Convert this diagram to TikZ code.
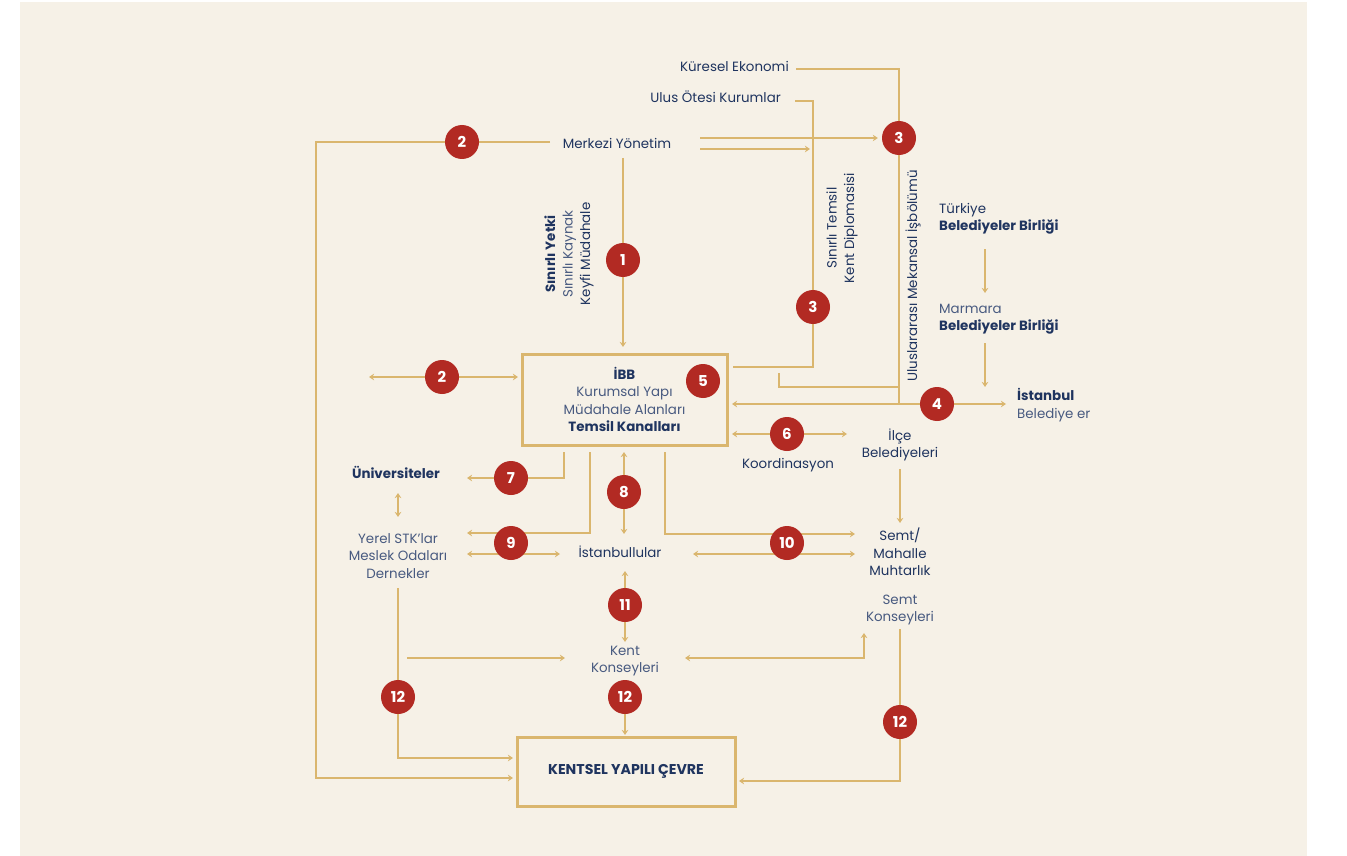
\documentclass[tikz,border=0pt]{standalone}
\usepackage{fontspec}
\setmainfont{Poppins}
\usetikzlibrary{arrows.meta}
\definecolor{cream}{RGB}{246,241,231}
\definecolor{gold}{RGB}{218,182,110}
\definecolor{navy}{RGB}{31,52,95}
\definecolor{lnavy}{RGB}{72,90,128}
\definecolor{circred}{RGB}{178,42,35}
\pgfdeclarelayer{back}
\pgfdeclarelayer{bg}
\pgfsetlayers{back,bg,main}
\tikzset{
  ln/.style={draw=gold, line width=2.8pt},
  ar/.style={-{Stealth[length=5pt,width=6.5pt]}},
  lr/.style={{Stealth[length=5pt,width=6.5pt]}-{Stealth[length=5pt,width=6.5pt]}},
  num/.style={circle, fill=circred, minimum size=34pt, inner sep=0pt, text=white, font=\fontsize{15}{15}\selectfont\bfseries},
  lbl/.style={align=center, inner sep=0pt, text=navy},
  lite/.style={text=lnavy},
  boxnode/.style={draw=gold, line width=3pt, inner sep=0pt, align=center, text=navy}
}
\begin{document}
\begin{tikzpicture}[x=1pt,y=-1pt,font=\fontsize{13.4}{17.4}\selectfont]
\useasboundingbox (0,0) rectangle (1347,856);
\begin{pgfonlayer}{back}
\fill[white] (0,0) rectangle (1347,856);
\fill[cream] (20,2) rectangle (1307,856);
\end{pgfonlayer}

% ---------- text nodes ----------
\node[lbl, anchor=east] (kures) at (789,66) {Küresel Ekonomi};
\node[lbl, anchor=east] (ulus) at (781,97) {Ulus Ötesi Kurumlar};
\node[lbl] (merk) at (617,143) {Merkezi Yönetim};
\node[lbl, rotate=90] (yetki) at (569,254) {\textbf{Sınırlı Yetki}\\{\color{lnavy}Sınırlı Kaynak}\\Keyfi Müdahale};
\node[lbl, rotate=90] (temsil) at (842,228) {Sınırlı Temsil\\Kent Diplomasisi};
\node[lbl, rotate=90] (ulusl) at (913,276) {Uluslararası Mekansal İşbölümü};
\node[lbl, anchor=west, align=left] (tbb) at (939,219) {Türkiye\\\textbf{Belediyeler Birliği}};
\node[lbl, anchor=west, align=left] (mbb) at (939,319) {{\color{lnavy}Marmara}\\\textbf{Belediyeler Birliği}};
\node[lbl, anchor=west, align=left] (istb) at (1017,405) {\textbf{İstanbul}\\{\color{lnavy}Belediye er}};
\node[boxnode, minimum width=205pt, minimum height=91pt] (ibb) at (624.5,399.5)
  {\textbf{İBB}\\{\color{lnavy}Kurumsal Yapı}\\{\color{lnavy}Müdahale Alanları}\\\textbf{Temsil Kanalları}};
\node[lbl] (ilce) at (900,445) {İlçe\\Belediyeleri};
\node[lbl] (koord) at (788,465) {Koordinasyon};
\node[lbl] (univ) at (396,472) {\textbf{Üniversiteler}};
\node[lbl, lite] (stk) at (398,556) {Yerel STK’lar\\Meslek Odaları\\Dernekler};
\node[lbl] (istlu) at (620,552) {İstanbullular};
\node[lbl] (semt) at (900,552) {Semt/\\Mahalle\\Muhtarlık};
\node[lbl, lite] (semtk) at (900,610) {Semt\\Konseyleri};
\node[lbl, lite] (kent) at (625,661) {Kent\\Konseyleri};
\node[boxnode, minimum width=218pt, minimum height=69pt, font=\fontsize{14.2}{16}\selectfont\bfseries] (kyc) at (626,771.5) {KENTSEL YAPILI ÇEVRE};

% ---------- numbered circles ----------
\node[num] (c2a) at (462,142) {2};
\node[num] (c3a) at (899,138) {3};
\node[num] (c1) at (623,260) {1};
\node[num] (c3b) at (813,307) {3};
\node[num] (c2b) at (442,377) {2};
\node[num] (c5) at (703,381) {5};
\node[num] (c4) at (937,404) {4};
\node[num] (c6) at (787,434) {6};
\node[num] (c7) at (511,478) {7};
\node[num] (c8) at (624,492) {8};
\node[num] (c9) at (511,543) {9};
\node[num] (c10) at (787,543) {10};
\node[num] (c11) at (625,605) {11};
\node[num] (c12a) at (398,697) {12};
\node[num] (c12b) at (625,697) {12};
\node[num] (c12c) at (900,722) {12};

% ---------- connector end points ----------
\coordinate (kurA) at (796,69);
\coordinate (ulA) at (795,101);
\coordinate (ibbR1) at (733,367);
\coordinate (j4) at (899,404);
\coordinate (mkR1) at (700,138);
\coordinate (mkR2) at (700,149);
\coordinate (mkR2e) at (810,149);
\coordinate (mkL) at (550,142);
\coordinate (loopTL) at (316,142);
\coordinate (kycL2) at (513,778);
\coordinate (mkD) at (623,158);
\coordinate (ibbT) at (623,347);
\coordinate (r2L) at (369,377);
\coordinate (r2R) at (518,377);
\coordinate (ulbA) at (779,373);
\coordinate (j3) at (899,387);
\coordinate (r4L) at (732,404);
\coordinate (r4R) at (1006,404);
\coordinate (tA) at (985,249);
\coordinate (tB) at (985,293);
\coordinate (mA) at (985,343);
\coordinate (mB) at (985,387);
\coordinate (r6L) at (732,434);
\coordinate (r6R) at (847,434);
\coordinate (r7a) at (564,452);
\coordinate (r7b) at (467,478);
\coordinate (r8a) at (624,452);
\coordinate (r8b) at (624,534);
\coordinate (r9a) at (590,452);
\coordinate (r9b) at (467,533);
\coordinate (r9c) at (467,554);
\coordinate (r9d) at (560,554);
\coordinate (r10a) at (665,452);
\coordinate (r10b) at (855,534);
\coordinate (r10c) at (693,554);
\coordinate (r10d) at (855,554);
\coordinate (ilA) at (900,469);
\coordinate (ilB) at (900,523);
\coordinate (uA) at (398,493);
\coordinate (uB) at (398,517);
\coordinate (r11a) at (625,571);
\coordinate (r11b) at (625,642);
\coordinate (skA) at (407,658);
\coordinate (skB) at (565,658);
\coordinate (smA) at (864,633);
\coordinate (smB) at (685,658);
\coordinate (stD) at (398,588);
\coordinate (kycL1) at (513,758);
\coordinate (kycT) at (625,735);
\coordinate (skD) at (900,629);
\coordinate (kycR) at (739,781);

% ---------- connectors ----------
\begin{pgfonlayer}{bg}
\draw[ln] (kurA) -| (c3a.center);
\draw[ln] (c3a.center) -- (j4);
\draw[ln] (ulA) -| (c3b.center) |- (ibbR1);
\draw[ln,ar] (mkR1) -- (c3a.west) [shorten >=4pt];
\draw[ln,ar] (mkR2) -- (mkR2e);
\draw[ln,ar] (mkL) -- (c2a.center) -- (loopTL) |- (kycL2);
\draw[ln,ar] (mkD) -- (c1.center) -- (ibbT);
\draw[ln,lr] (r2L) -- (r2R);
\draw[ln] (ulbA) |- (j3);
\draw[ln,lr] (r4L) -- (r4R);
\draw[ln,ar] (tA) -- (tB);
\draw[ln,ar] (mA) -- (mB);
\draw[ln,lr] (r6L) -- (r6R);
\draw[ln,ar] (r7a) |- (r7b);
\draw[ln,lr] (r8a) -- (r8b);
\draw[ln,ar] (r9a) |- (r9b);
\draw[ln,lr] (r9c) -- (r9d);
\draw[ln,ar] (r10a) |- (r10b);
\draw[ln,lr] (r10c) -- (r10d);
\draw[ln,ar] (ilA) -- (ilB);
\draw[ln,lr] (uA) -- (uB);
\draw[ln,lr] (r11a) -- (r11b);
\draw[ln,ar] (skA) -- (skB);
\draw[ln,lr] (smA) |- (smB);
\draw[ln,ar] (stD) -- (c12a.center) |- (kycL1);
\draw[ln,ar] (c12b.center) -- (kycT);
\draw[ln,ar] (skD) -- (c12c.center) |- (kycR);
\end{pgfonlayer}
\end{tikzpicture}
\end{document}
